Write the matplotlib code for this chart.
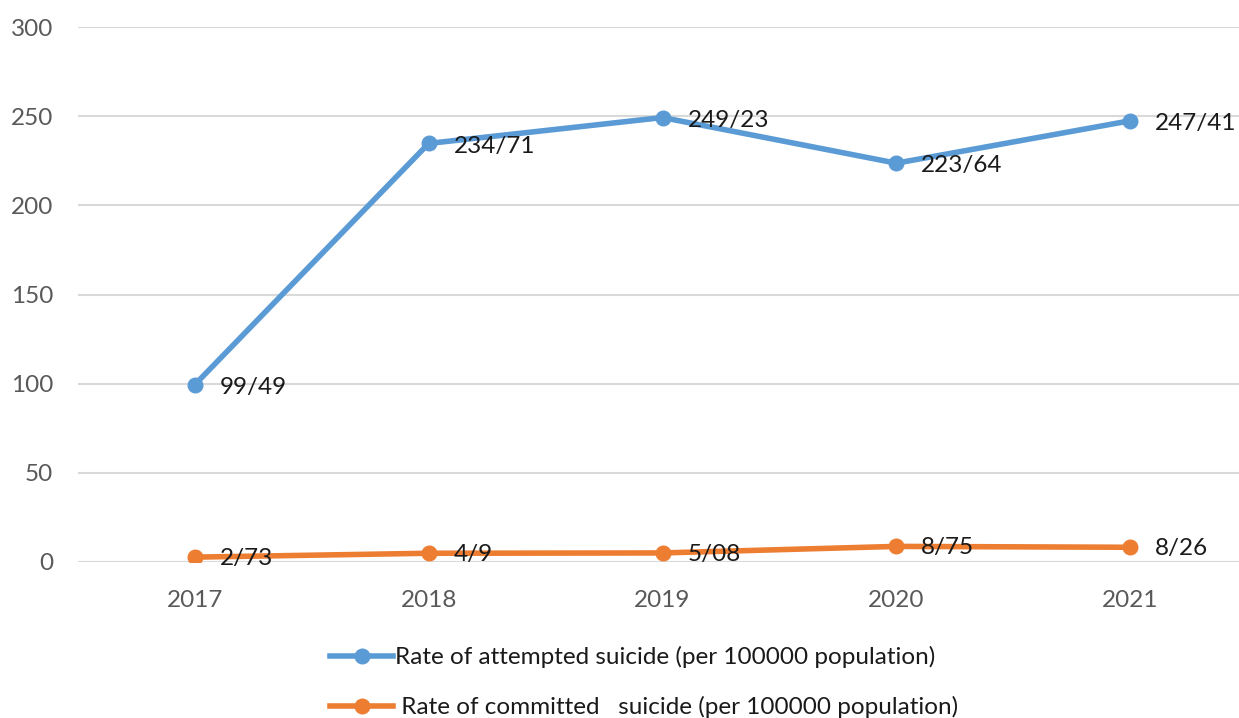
import matplotlib.pyplot as plt

years = ['2017', '2018', '2019', '2020', '2021']
attempted = [99.49, 234.71, 249.23, 223.64, 247.41]
committed = [2.73, 4.9, 5.08, 8.75, 8.26]
attempted_labels = ['99/49', '234/71', '249/23', '223/64', '247/41']
committed_labels = ['2/73', '4/9', '5/08', '8/75', '8/26']

plt.rcParams['font.family'] = ['Lato', 'DejaVu Sans']

fig = plt.figure(figsize=(12.39, 7.18), dpi=100)
ax = fig.add_axes([78 / 1239, 156 / 718, 1169 / 1239, 535 / 718])

x = list(range(len(years)))
blue = '#5B9BD5'
orange = '#ED7D31'
ax.plot(x, attempted, color=blue, lw=4, marker='o', ms=10.5,
        label='Rate of attempted suicide (per 100000 population)', zorder=3)
ax.plot(x, committed, color=orange, lw=4, marker='o', ms=10.5,
        label=' Rate of committed   suicide (per 100000 population)', zorder=3)

for xi, v, t in zip(x, attempted, attempted_labels):
    ax.annotate(t, (xi, v), xytext=(18, -2), textcoords='offset points',
                ha='left', va='center', fontsize=17.5, color='#1a1a1a')
for xi, v, t in zip(x, committed, committed_labels):
    ax.annotate(t, (xi, v), xytext=(18, -1), textcoords='offset points',
                ha='left', va='center', fontsize=17.5, color='#1a1a1a')

ax.set_xlim(-0.5, 4.5)
ax.set_ylim(0, 300)
ax.set_yticks(range(0, 301, 50))
ax.set_xticks(x)
ax.set_xticklabels(years)
ax.grid(axis='y', color='#D9D9D9', lw=1.5, zorder=0)
ax.set_axisbelow(True)
for s in ax.spines.values():
    s.set_visible(False)
ax.tick_params(length=0, labelsize=17.5, labelcolor='#595959')
ax.tick_params(axis='y', pad=18)
ax.tick_params(axis='x', pad=20)

fig.legend(loc='center left', bbox_to_anchor=(318 / 1239, 36 / 718),
           frameon=False, fontsize=17.5, handlelength=2.6, handletextpad=0.05,
           labelspacing=1.15, borderpad=0, labelcolor='#1a1a1a')

fig.savefig('out.png', dpi=100)
